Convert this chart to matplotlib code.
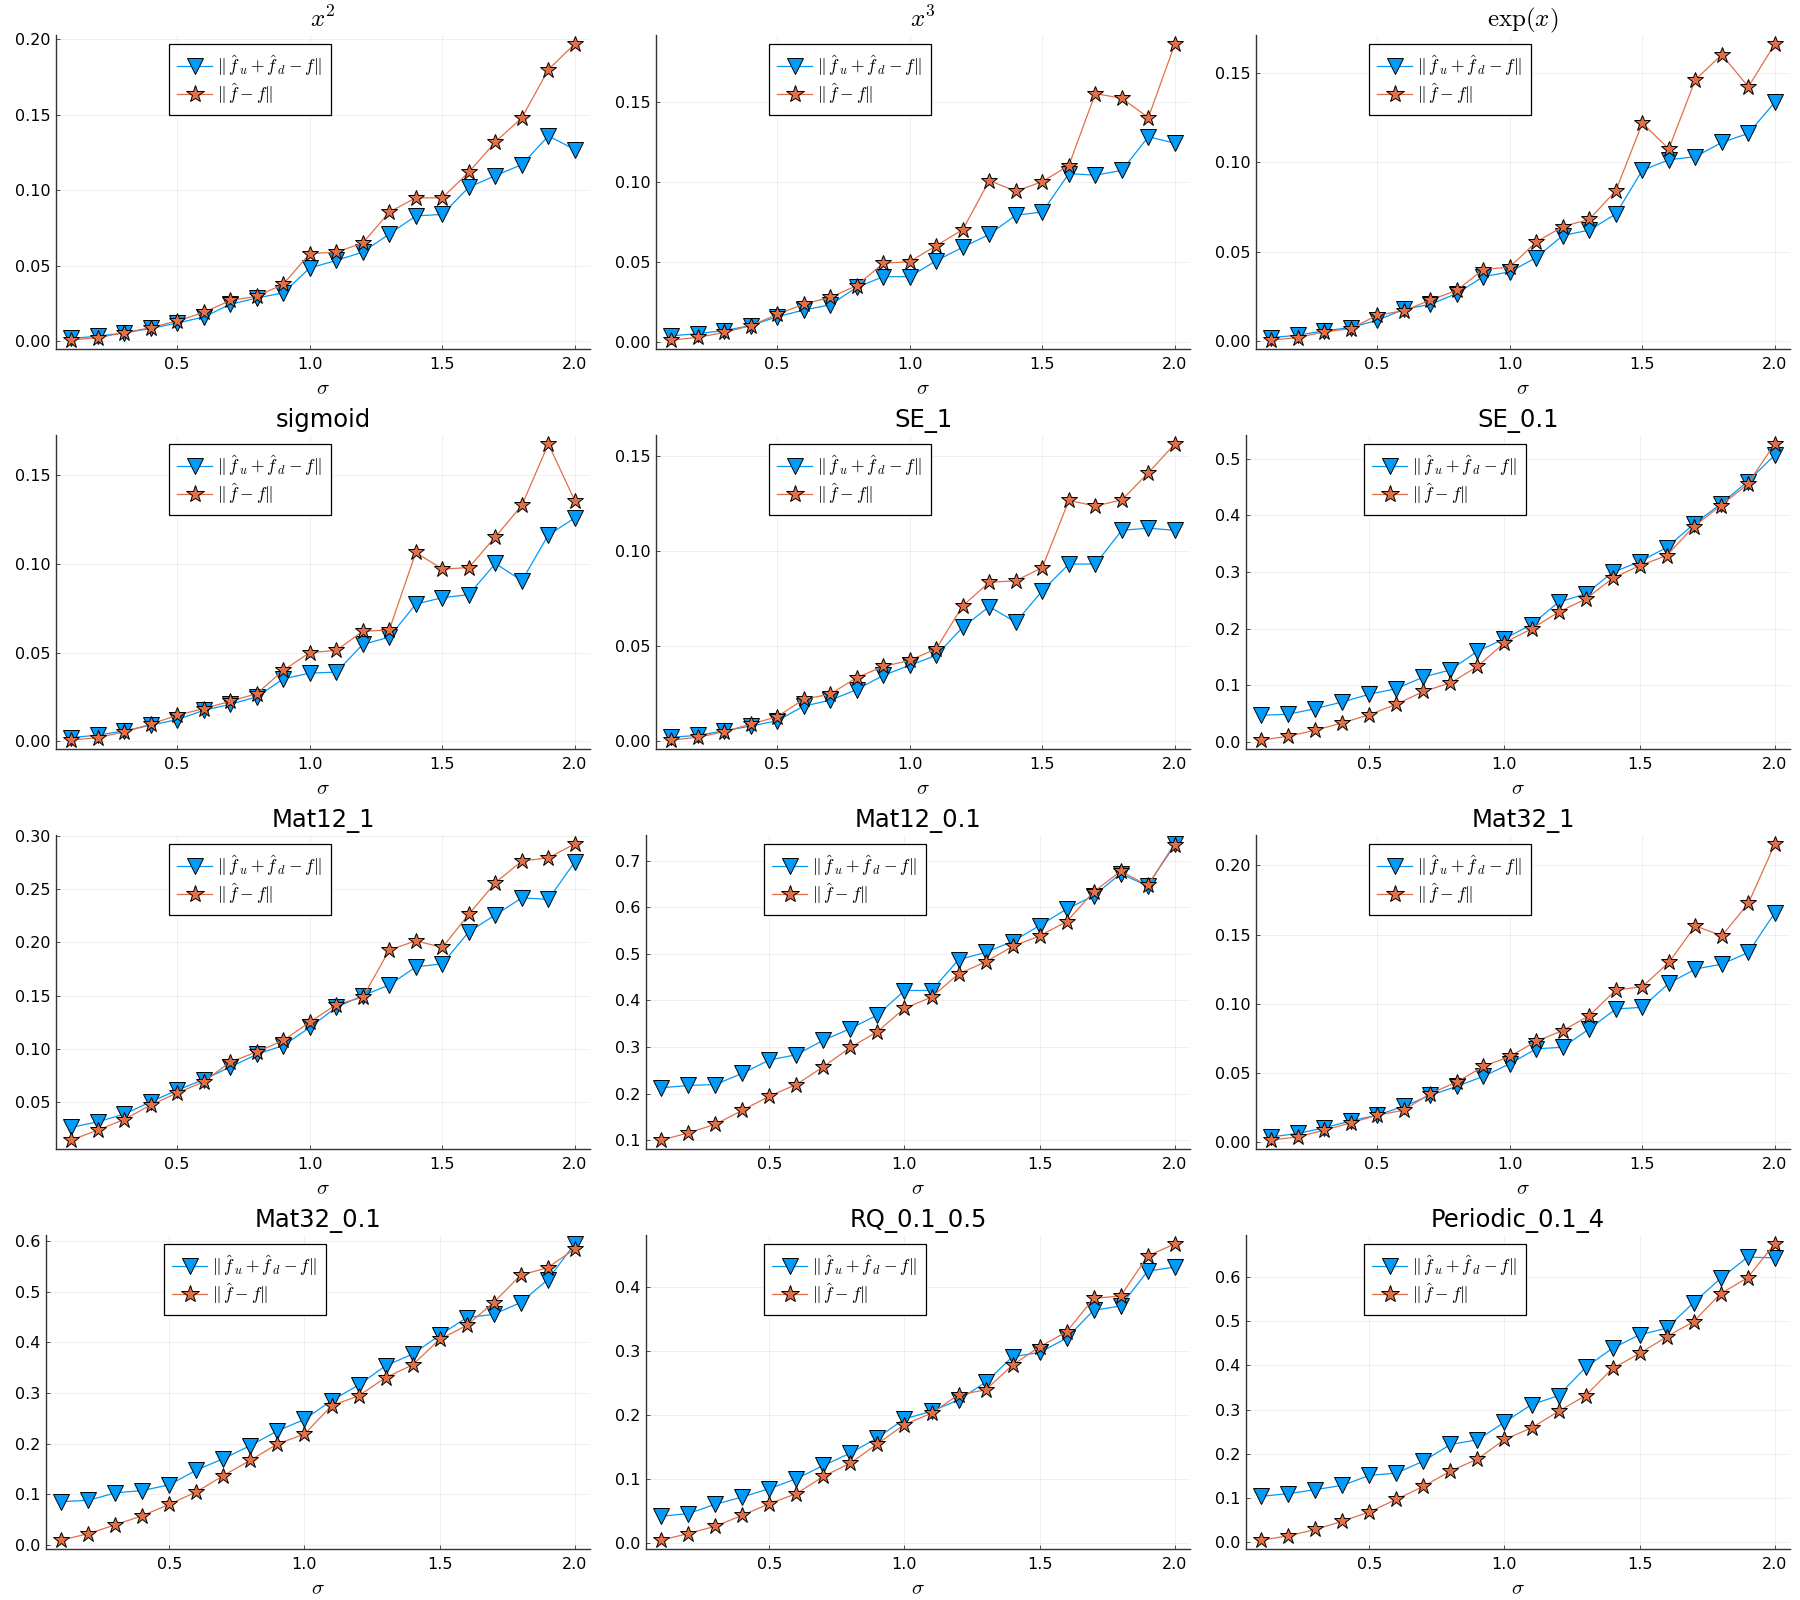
import numpy as np
import matplotlib
matplotlib.use("Agg")
import matplotlib.pyplot as plt
from matplotlib.ticker import FixedLocator, FormatStrFormatter

plt.rcParams['mathtext.fontset'] = 'cm'
plt.rcParams['font.family'] = ['DejaVu Sans']

sigma = [0.1, 0.2, 0.3, 0.4, 0.5, 0.6, 0.7, 0.8, 0.9, 1.0,
         1.1, 1.2, 1.3, 1.4, 1.5, 1.6, 1.7, 1.8, 1.9, 2.0]

titles = [r"$x^2$", r"$x^3$", r"$\exp(x)$", "sigmoid", "SE_1", "SE_0.1",
          "Mat12_1", "Mat12_0.1", "Mat32_1", "Mat32_0.1", "RQ_0.1_0.5", "Periodic_0.1_4"]

# ||f_u + f_d - f||
blue_x2 = [0.0018, 0.0033, 0.0055, 0.0084, 0.012, 0.016, 0.0244, 0.0286, 0.032, 0.0485,
           0.0535, 0.059, 0.071, 0.083, 0.084, 0.102, 0.1097, 0.117, 0.136, 0.127]
blue_x3 = [0.0037, 0.005, 0.007, 0.010, 0.0156, 0.0198, 0.023, 0.034, 0.0406, 0.0406,
           0.0506, 0.059, 0.067, 0.079, 0.081, 0.105, 0.104, 0.107, 0.128, 0.124]
blue_exp = [0.002, 0.0033, 0.0058, 0.0076, 0.0117, 0.0177, 0.0206, 0.0266, 0.036, 0.0387,
            0.0467, 0.059, 0.062, 0.071, 0.0954, 0.1013, 0.103, 0.111, 0.116, 0.1335]
blue_sig = [0.002, 0.0034, 0.0058, 0.009, 0.0122, 0.0174, 0.0208, 0.025, 0.0352, 0.0384,
            0.039, 0.0546, 0.0587, 0.0774, 0.081, 0.0827, 0.1003, 0.0906, 0.1164, 0.126]
blue_se1 = [0.002, 0.003, 0.0054, 0.0079, 0.0107, 0.0184, 0.0215, 0.0271, 0.0346, 0.0399,
            0.0451, 0.060, 0.0708, 0.0626, 0.0792, 0.0932, 0.0932, 0.111, 0.1121, 0.111]
blue_se01 = [0.047, 0.0487, 0.0587, 0.0704, 0.084, 0.094, 0.1144, 0.127, 0.160, 0.182,
             0.207, 0.2465, 0.261, 0.299, 0.318, 0.343, 0.384, 0.4196, 0.4595, 0.506]
blue_m12_1 = [0.026, 0.0312, 0.0384, 0.050, 0.061, 0.071, 0.0828, 0.0947, 0.103, 0.120,
              0.139, 0.150, 0.160, 0.177, 0.180, 0.210, 0.226, 0.242, 0.2406, 0.276]
blue_m12_01 = [0.2123, 0.2173, 0.2194, 0.2436, 0.272, 0.2834, 0.3146, 0.3395, 0.3687, 0.4212,
               0.4212, 0.4873, 0.503, 0.5264, 0.5606, 0.596, 0.6245, 0.672, 0.6458, 0.736]
blue_m32_1 = [0.004, 0.0065, 0.0105, 0.0156, 0.0197, 0.0261, 0.034, 0.0405, 0.0477, 0.0568,
              0.0676, 0.0688, 0.082, 0.0964, 0.0976, 0.1149, 0.1252, 0.1288, 0.1372, 0.166]
blue_m32_01 = [0.0857, 0.0883, 0.103, 0.1076, 0.119, 0.148, 0.1707, 0.1965, 0.2255, 0.248,
               0.2854, 0.3157, 0.354, 0.377, 0.414, 0.449, 0.4555, 0.4787, 0.5238, 0.5947]
blue_rq = [0.0416, 0.0457, 0.0603, 0.0717, 0.0847, 0.1003, 0.121, 0.1403, 0.1642, 0.1938,
           0.2057, 0.2234, 0.2509, 0.2909, 0.2977, 0.320, 0.3636, 0.3704, 0.4249, 0.4312]
blue_per = [0.1043, 0.1103, 0.1193, 0.129, 0.1515, 0.1568, 0.1838, 0.2213, 0.2318, 0.2716,
            0.3113, 0.3316, 0.3953, 0.4389, 0.4689, 0.4839, 0.5416, 0.5964, 0.6444, 0.643]

# ||f_hat - f||
orange_x2 = [0.0007, 0.0024, 0.0055, 0.009, 0.0134, 0.019, 0.027, 0.0297, 0.0377, 0.058,
             0.059, 0.065, 0.0855, 0.095, 0.095, 0.112, 0.132, 0.148, 0.180, 0.197]
orange_x3 = [0.001, 0.0027, 0.0058, 0.010, 0.017, 0.0235, 0.0277, 0.035, 0.049, 0.050,
             0.060, 0.070, 0.1006, 0.094, 0.100, 0.110, 0.155, 0.152, 0.140, 0.186]
orange_exp = [0.0006, 0.002, 0.0052, 0.007, 0.0145, 0.017, 0.0229, 0.0284, 0.040, 0.0414,
              0.0554, 0.064, 0.068, 0.084, 0.1217, 0.1074, 0.146, 0.160, 0.142, 0.166]
orange_sig = [0.0006, 0.002, 0.0052, 0.0096, 0.0146, 0.0184, 0.0225, 0.0268, 0.040, 0.050,
              0.0512, 0.062, 0.0628, 0.1065, 0.0971, 0.098, 0.1153, 0.1331, 0.1678, 0.1356]
orange_se1 = [0.0005, 0.002, 0.0049, 0.0089, 0.0128, 0.022, 0.0247, 0.0334, 0.0393, 0.0425,
              0.0486, 0.0713, 0.0836, 0.0844, 0.0914, 0.1267, 0.1238, 0.127, 0.1413, 0.1565]
orange_se01 = [0.003, 0.010, 0.0205, 0.0334, 0.048, 0.0663, 0.089, 0.104, 0.133, 0.175,
               0.1995, 0.229, 0.252, 0.2887, 0.311, 0.3286, 0.3797, 0.4167, 0.4548, 0.526]
orange_m12_1 = [0.014, 0.0234, 0.0334, 0.047, 0.0584, 0.0688, 0.0875, 0.0969, 0.1078, 0.125,
                0.1416, 0.1484, 0.1928, 0.2016, 0.1953, 0.2266, 0.2563, 0.2766, 0.2797, 0.2928]
orange_m12_01 = [0.100, 0.1156, 0.134, 0.164, 0.1945, 0.2194, 0.2578, 0.299, 0.3331, 0.3829,
                 0.407, 0.4568, 0.4824, 0.5158, 0.5385, 0.569, 0.633, 0.6771, 0.6473, 0.7326]
orange_m32_1 = [0.0017, 0.004, 0.0089, 0.0141, 0.0197, 0.0233, 0.0353, 0.0436, 0.0549, 0.0621,
                0.0731, 0.0808, 0.0916, 0.110, 0.1125, 0.130, 0.1564, 0.1492, 0.1727, 0.2156]
orange_m32_01 = [0.0097, 0.0225, 0.040, 0.058, 0.0805, 0.105, 0.1372, 0.1675, 0.1997, 0.219,
                 0.2751, 0.2945, 0.3305, 0.3557, 0.406, 0.4336, 0.4787, 0.5329, 0.5477, 0.5844]
orange_rq = [0.0042, 0.0145, 0.026, 0.0431, 0.0613, 0.0769, 0.1039, 0.1247, 0.1548, 0.1849,
             0.2026, 0.2317, 0.239, 0.2779, 0.3065, 0.3299, 0.3823, 0.386, 0.4483, 0.4675]
orange_per = [0.0053, 0.015, 0.0293, 0.048, 0.069, 0.0975, 0.1268, 0.1613, 0.1883, 0.2326,
              0.2588, 0.2963, 0.3316, 0.3931, 0.4269, 0.4644, 0.4989, 0.5619, 0.5979, 0.6744]

blue_all = [blue_x2, blue_x3, blue_exp, blue_sig, blue_se1, blue_se01,
            blue_m12_1, blue_m12_01, blue_m32_1, blue_m32_01, blue_rq, blue_per]
orange_all = [orange_x2, orange_x3, orange_exp, orange_sig, orange_se1, orange_se01,
              orange_m12_1, orange_m12_01, orange_m32_1, orange_m32_01, orange_rq, orange_per]

# y tick steps per panel
ytick_steps = [0.05, 0.05, 0.05, 0.05, 0.05, 0.1, 0.05, 0.1, 0.05, 0.1, 0.1, 0.1]
xticks = [0.5, 1.0, 1.5, 2.0]

label_a = r"$\|\,\hat{f}_{\,u} + \hat{f}_{\,d} - f\|$"
label_b = r"$\|\,\hat{f} - f\|$"

BLUE = "#009AFA"
ORANGE = "#E36F47"

W, H = 1800, 1600
fig = plt.figure(figsize=(18, 16), dpi=100)

for i in range(12):
    r, c = divmod(i, 3)
    step = ytick_steps[i]
    L = 56 if step < 0.1 else 46
    left_px = c * 600 + L
    right_px = c * 600 + 590
    top_px = r * 400 + 35
    bot_px = r * 400 + 349
    ax = fig.add_axes([left_px / W, 1 - bot_px / H, (right_px - left_px) / W, (bot_px - top_px) / H])

    ax.plot(sigma, blue_all[i], color=BLUE, lw=0.9, marker='v', ms=11,
            mfc=BLUE, mec='black', mew=0.7, label=label_a)
    ax.plot(sigma, orange_all[i], color=ORANGE, lw=0.9, marker='*', ms=12,
            mfc=ORANGE, mec='black', mew=0.7, label=label_b)

    ax.margins(x=0.03, y=0.03)
    ymin, ymax = ax.get_ylim()
    k0 = int(np.ceil(ymin / step - 1e-9))
    k1 = int(np.floor(ymax / step + 1e-9))
    yt = [k * step for k in range(k0, k1 + 1)]
    ax.yaxis.set_major_locator(FixedLocator(yt))
    ax.yaxis.set_major_formatter(FormatStrFormatter('%.2f' if step < 0.1 else '%.1f'))
    ax.xaxis.set_major_locator(FixedLocator(xticks))
    ax.xaxis.set_major_formatter(FormatStrFormatter('%.1f'))

    ax.grid(True, color='black', alpha=0.07, lw=0.6)
    ax.set_axisbelow(True)
    for s in ['top', 'right']:
        ax.spines[s].set_visible(False)
    for s in ['left', 'bottom']:
        ax.spines[s].set_linewidth(1.0)
        ax.spines[s].set_color('#333333')
    ax.tick_params(direction='in', length=3, width=0.6, labelsize=11.5, colors='#333333',
                   labelcolor='black', pad=4)
    ax.tick_params(axis='x', pad=6)

    fs_title = 18 if titles[i].startswith('$') else 17.5
    ax.set_title(titles[i], fontsize=fs_title, pad=6)
    ax.set_xlabel(r"$\sigma$", fontsize=15, labelpad=4)

    leg_x = 0.211 if step < 0.1 else 0.216
    leg = ax.legend(loc='upper left', bbox_to_anchor=(leg_x, 0.97), fontsize=12.5,
                    frameon=True, fancybox=False, edgecolor='black', framealpha=1,
                    handlelength=2.0, handletextpad=0.3, borderpad=0.5,
                    labelspacing=0.2, borderaxespad=0, markerscale=1.1)
    leg.get_frame().set_linewidth(0.9)

fig.savefig("out.png", dpi=100)
